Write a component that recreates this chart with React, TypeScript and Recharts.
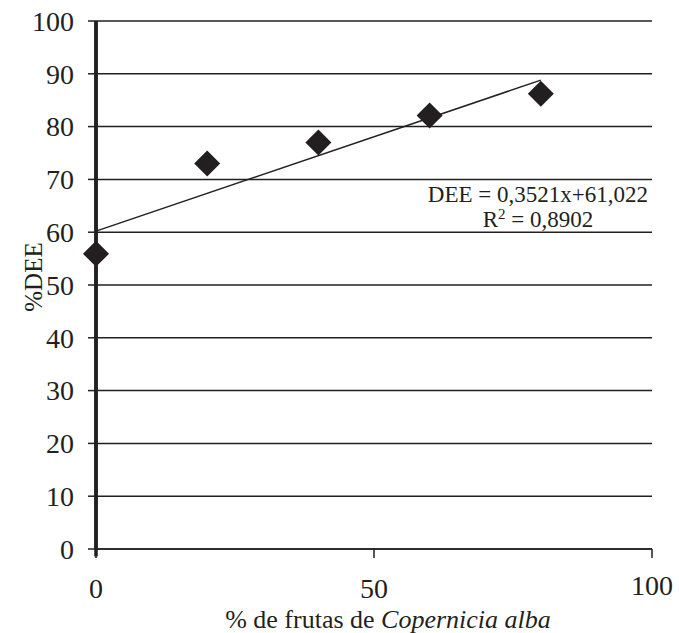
import { ComposedChart, Scatter, Line, XAxis, YAxis, CartesianGrid, ReferenceLine } from "recharts";

const frutas = [0, 20, 40, 60, 80];
const dee = [55.9, 73, 77, 82.1, 86.2];
const trendX = [0, 80];
const trendY = [60.2, 88.8];
const xTicks = [0, 50, 100];
const yTicks = [0, 10, 20, 30, 40, 50, 60, 70, 80, 90, 100];

const points = frutas.map((x, i) => ({ x, y: dee[i] }));
const trend = trendX.map((x, i) => ({ x, y: trendY[i] }));

const ink = "#231f20";
const serif = "'Liberation Serif', 'Times New Roman', serif";

const Diamond = (props: any) => {
  const { cx, cy } = props;
  const r = 13;
  return <polygon points={`${cx},${cy - r} ${cx + r},${cy} ${cx},${cy + r} ${cx - r},${cy}`} fill={ink} />;
};

const YTick = ({ x, y, payload }: any) => (
  <text x={x} y={y} dy="0.35em" textAnchor="end" fontSize={28} fontFamily={serif} fill={ink}>
    {payload.value}
  </text>
);

const XTick = ({ x, y, payload }: any) => (
  <text x={x} y={y} dy={payload.value === 100 ? 35 : 38} textAnchor="middle" fontSize={28} fontFamily={serif} fill={ink}>
    {payload.value}
  </text>
);

export default function App() {
  return (
    <div style={{ position: "absolute", left: 0, top: 0 }}>
      <ComposedChart width={679} height={633} margin={{ top: 21, right: 27, bottom: 0, left: 0 }}>
        <CartesianGrid horizontal vertical={false} stroke={ink} strokeWidth={1.5} strokeOpacity={1} />
        <XAxis
          type="number"
          dataKey="x"
          domain={[0, 100]}
          ticks={xTicks}
          height={84}
          tickSize={9}
          axisLine={{ stroke: ink, strokeWidth: 1.5 }}
          tickLine={{ stroke: ink, strokeWidth: 1.5 }}
          tick={<XTick />}
        />
        <YAxis
          type="number"
          dataKey="y"
          domain={[0, 100]}
          ticks={yTicks}
          width={96}
          tickSize={8}
          tickMargin={14}
          axisLine={{ stroke: ink, strokeWidth: 3.5 }}
          tickLine={{ stroke: ink, strokeWidth: 1.5 }}
          tick={<YTick />}
        />
        <ReferenceLine
          segment={[{ x: 0, y: 100 }, { x: 0, y: -1.4 }]}
          stroke={ink}
          strokeWidth={3.5}
          ifOverflow="visible"
        />
        <Line
          data={trend}
          dataKey="y"
          type="linear"
          stroke={ink}
          strokeWidth={1.5}
          dot={false}
          activeDot={false}
          isAnimationActive={false}
        />
        <Scatter data={points} dataKey="y" shape={<Diamond />} isAnimationActive={false} />
        <text x={648} y={202} textAnchor="end" fontSize={23} fontFamily={serif} fill={ink}>
          DEE = 0,3521x+61,022
        </text>
        <text x={538} y={227} textAnchor="middle" fontSize={23} fontFamily={serif} fill={ink}>
          R<tspan dy={-8} fontSize={15}>2</tspan>
          <tspan dy={8}> = 0,8902</tspan>
        </text>
        <text
          x={33}
          y={277}
          transform="rotate(-90 33 277)"
          textAnchor="middle"
          dominantBaseline="central"
          fontSize={25}
          fontFamily={serif}
          fill={ink}
        >
          %DEE
        </text>
        <text x={388} y={628} textAnchor="middle" fontSize={26} fontFamily={serif} fill={ink}>
          % de frutas de <tspan fontStyle="italic">Copernicia alba</tspan>
        </text>
      </ComposedChart>
    </div>
  );
}
